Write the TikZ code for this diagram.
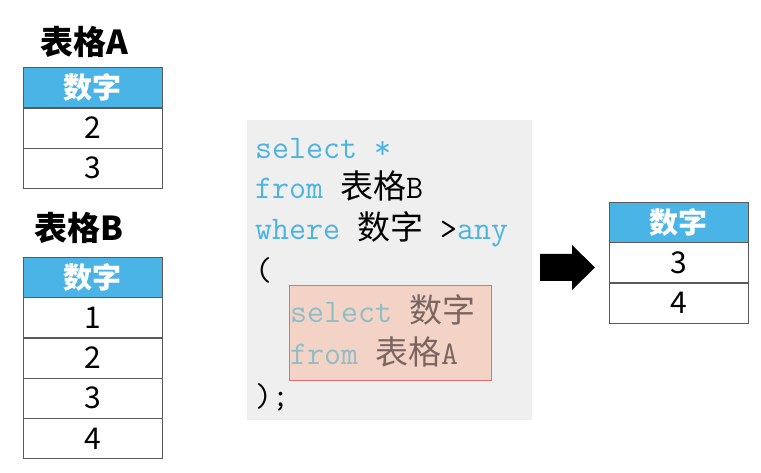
\documentclass[tikz,border=0pt]{standalone}
\usepackage{fontspec}
\setmainfont{Noto Sans CJK SC}
\newfontfamily\cjk{Noto Sans CJK SC}
\usetikzlibrary{positioning}
\definecolor{headblue}{HTML}{4BB4E6}
\definecolor{gridgray}{HTML}{5A5A5A}
\definecolor{codegray}{HTML}{EFEFEF}
\definecolor{kwblue}{HTML}{4DB3E0}
\definecolor{boxpink}{HTML}{F2D3C6}
\definecolor{boxred}{HTML}{E07070}
\definecolor{dimkw}{HTML}{8FBEC6}
\definecolor{dimtxt}{HTML}{7A6560}
\newcommand\kw[1]{\textcolor{kwblue}{#1}}
\tikzset{
  cell/.style={draw=gridgray, minimum width=139pt, minimum height=40pt,
    inner sep=0pt, font=\fontsize{30}{30}\selectfont},
  head/.style={cell, fill=headblue, text=white,
    font=\bfseries\fontsize{29}{29}\selectfont},
  title/.style={font=\bfseries\fontsize{33}{33}\selectfont, inner sep=0pt},
  code/.style={anchor=base west, inner sep=0pt,
    font=\ttfamily\fontsize{33}{33}\selectfont},
}
\begin{document}
\begin{tikzpicture}[x=1pt, y=-1pt]
  \useasboundingbox (0,0) rectangle (761,473);

  % table A
  \node[title] (titleA) at (84,42) {表格A};
  \node[head] (hA) at (92.5,87.5) {数字};
  \node[cell, below=0pt of hA] (a1) {2};
  \node[cell, below=0pt of a1] (a2) {3};

  % table B
  \node[title] (titleB) at (79,228) {表格B};
  \node[head] (hB) at (92.5,277) {数字};
  \node[cell, below=0pt of hB] (b1) {1};
  \node[cell, below=0pt of b1] (b2) {2};
  \node[cell, below=0pt of b2] (b3) {3};
  \node[cell, below=0pt of b3] (b4) {4};

  % query
  \node[fill=codegray, minimum width=285pt, minimum height=300pt, inner sep=0pt] (codebg) at (389.5,270) {};
  \node[draw=boxred, fill=boxpink, minimum width=202pt, minimum height=95pt, inner sep=0pt] (inner) at (390,332.5) {};
  \node[code] (l1) at (255,159) {\kw{select *}};
  \node[code] (l2) at (255,199) {\kw{from} {\cjk 表格}B};
  \node[code] (l3) at (255,240) {\kw{where} {\cjk 数字} >\kw{any}};
  \node[code] (l4) at (255,281) {(};
  \node[code] (l5) at (290,323) {\textcolor{dimkw}{select} \textcolor{dimtxt}{\cjk 数字}};
  \node[code] (l6) at (290,364) {\textcolor{dimkw}{from} \textcolor{dimtxt}{{\cjk 表格}A}};
  \node[code] (l7) at (255,406) {);};

  % arrow
  \fill (540,254) -- (572,254) -- (572,245) -- (595,267.5) -- (572,290) -- (572,281) -- (540,281) -- cycle;

  % result
  \node[head] (hR) at (678.5,222) {数字};
  \node[cell, below=0pt of hR] (r1) {3};
  \node[cell, below=0pt of r1] (r2) {4};
\end{tikzpicture}
\end{document}
